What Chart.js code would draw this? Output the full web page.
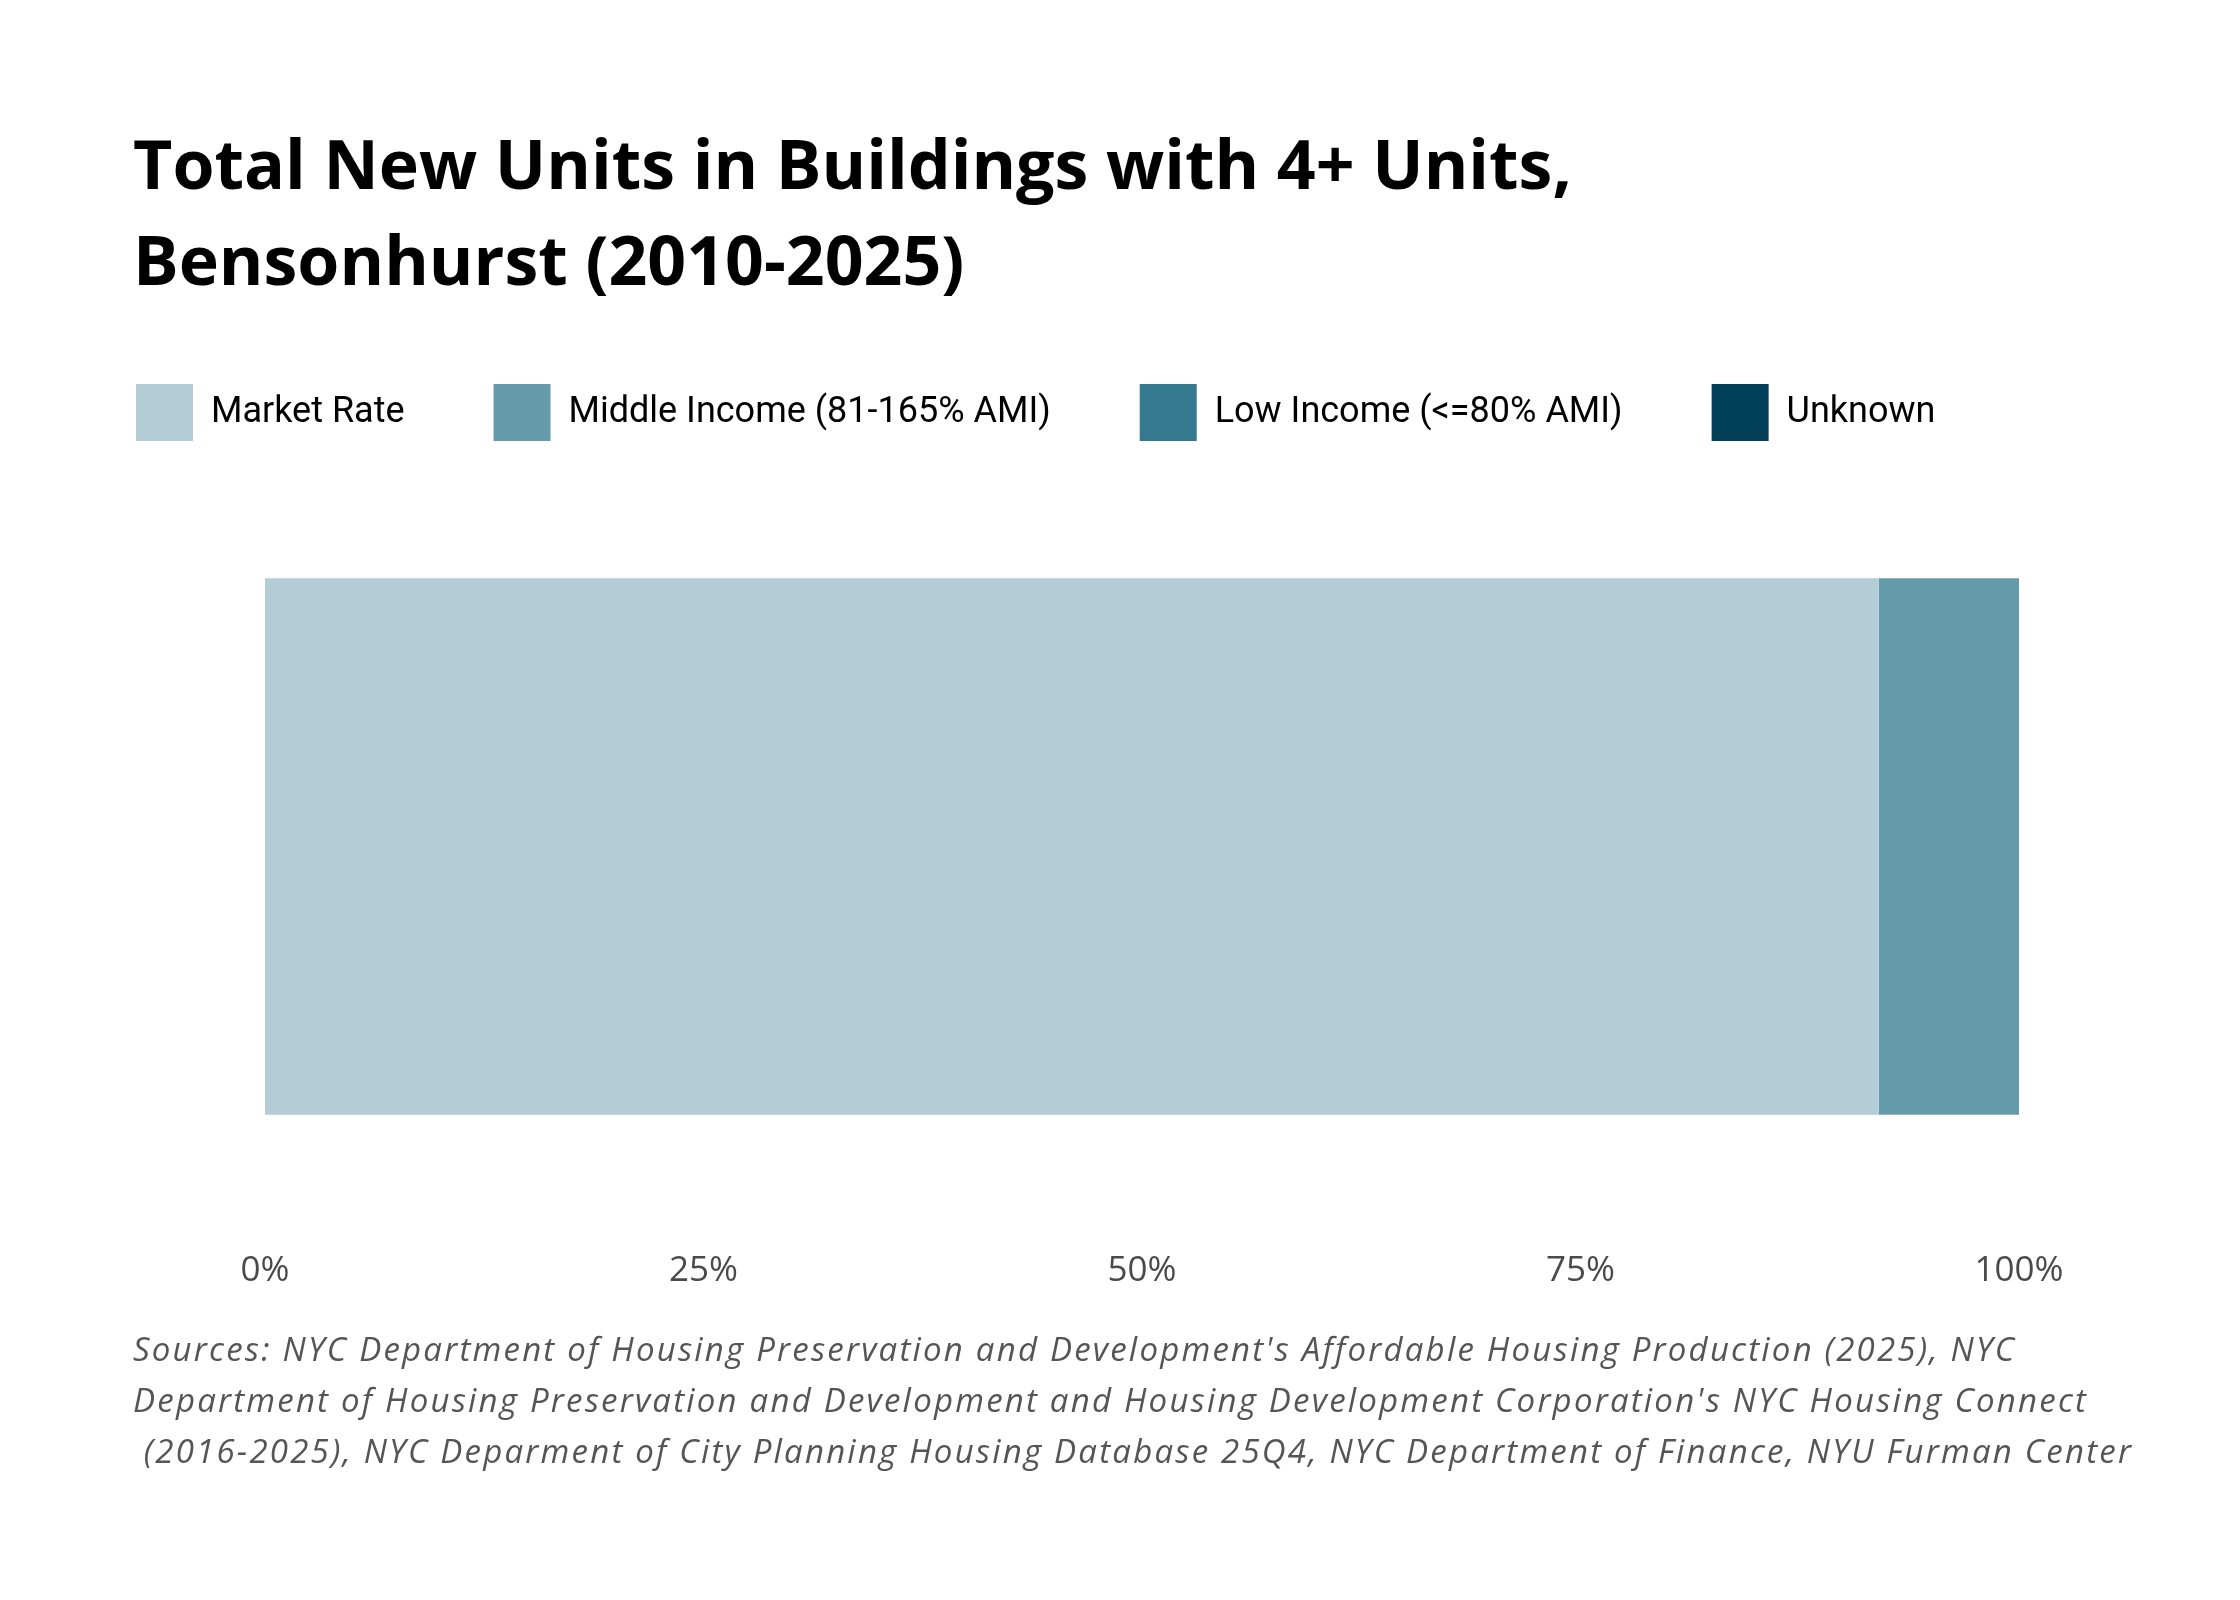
<!DOCTYPE html>
<html>
<head>
<meta charset="utf-8">
<script src="https://cdn.jsdelivr.net/npm/chart.js@4"></script>
<style>
  html, body { margin: 0; padding: 0; background: #fff; }
  #wrap { position: relative; width: 2240px; height: 1600px; }
  #chart { position: absolute; left: 0; top: 0; }
  .title {
    position: absolute; left: 133px; top: 115px; margin: 0;
    font-family: "Open Sans", sans-serif; font-weight: 700; font-size: 68px;
    line-height: 96px; color: #000;
  }
  .sources {
    position: absolute; left: 133px; top: 1323px; margin: 0;
    font-family: "Open Sans", sans-serif; font-style: italic; font-weight: 400;
    font-size: 33px; letter-spacing: 2.2px;
    line-height: 51px; color: #555; white-space: pre;
  }
</style>
</head>
<body>
<div id="wrap">
  <canvas id="chart" width="2240" height="1600"></canvas>
  <h1 class="title">Total New Units in Buildings with 4+ Units,<br>Bensonhurst (2010-2025)</h1>
  <p class="sources">Sources: NYC Department of Housing Preservation and Development's Affordable Housing Production (2025), NYC
Department of Housing Preservation and Development and Housing Development Corporation's NYC Housing Connect
 (2016-2025), NYC Deparment of City Planning Housing Database 25Q4, NYC Department of Finance, NYU Furman Center</p>
</div>
<script>
// share of new units by affordability (percent)
const categories = ['Bensonhurst'];
const marketRate = [92];
const middleIncome = [8];
const lowIncome = [0];
const unknown = [0];
const xTicks = [0, 25, 50, 75, 100];

const ctx = document.getElementById('chart').getContext('2d');
new Chart(ctx, {
    type: 'bar',
    data: {
        labels: categories,
        datasets: [
            { label: 'Market Rate', data: marketRate, backgroundColor: '#b4ccd6' },
            { label: 'Middle Income (81-165% AMI)', data: middleIncome, backgroundColor: '#669bac' },
            { label: 'Low Income (<=80% AMI)', data: lowIncome, backgroundColor: '#35798f' },
            { label: 'Unknown', data: unknown, backgroundColor: '#02405a' }
        ]
    },
    options: {
        indexAxis: 'y',
        responsive: false,
        animation: false,
        devicePixelRatio: 1,
        layout: {
            padding: { left: 47, right: 150, top: 295, bottom: 300 }
        },
        datasets: {
            bar: { categoryPercentage: 0.678, barPercentage: 1, borderWidth: 0 }
        },
        plugins: {
            title: { display: false },
            tooltip: { enabled: false },
            legend: {
                display: true,
                position: 'top',
                align: 'start',
                labels: {
                    boxWidth: 57,
                    boxHeight: 57,
                    padding: 89,
                    color: '#000',
                    font: { family: 'Roboto', size: 36 }
                }
            }
        },
        scales: {
            x: {
                type: 'linear',
                stacked: true,
                min: 0,
                max: 100,
                afterBuildTicks: (axis) => {
                    axis.ticks = xTicks.map(v => ({ value: v }));
                },
                grid: { display: false, drawTicks: false },
                border: { display: false },
                ticks: {
                    padding: 8,
                    color: '#4a4a4a',
                    font: { family: 'Open Sans', size: 35 },
                    callback: (v) => v + '%'
                }
            },
            y: {
                type: 'category',
                stacked: true,
                afterFit: (axis) => { axis.width = 218; },
                grid: { display: false },
                border: { display: false },
                ticks: { display: false }
            },
            // empty axis on the right, only keeps the bar end clear of the legend width
            yRight: {
                type: 'linear',
                position: 'right',
                afterFit: (axis) => { axis.width = 71; },
                grid: { display: false },
                border: { display: false },
                ticks: { display: false }
            }
        }
    }
});
</script>
</body>
</html>
